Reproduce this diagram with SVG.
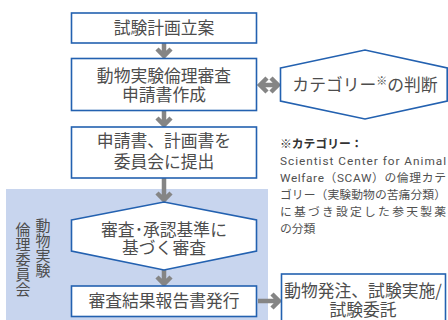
<svg xmlns="http://www.w3.org/2000/svg" width="448" height="320" viewBox="0 0 448 320">
<defs>
<style>
.box{fill:#fff;stroke:#2361b0;stroke-width:1.6}
.t{font-family:"Noto Sans CJK JP","Noto Sans",sans-serif;fill:#4d4d4d;font-size:16.8px;text-anchor:middle}
.n{font-family:Roboto,"Noto Sans CJK JP",sans-serif;fill:#505050;font-size:11.8px}
.v{font-family:"Noto Sans CJK JP","Noto Sans",sans-serif;fill:#4d4d4d;font-size:15px;writing-mode:vertical-rl}
.a{fill:none;stroke:#858585;stroke-width:4.5;stroke-linejoin:miter;stroke-linecap:butt}
</style>
</defs>
<rect id="committee-bg" x="6" y="189" width="262" height="135" fill="#c8d5ee"/>
<g id="committee-label">
<text class="v" x="43" y="218">動物実験</text>
<text class="v" x="23" y="222">倫理委員会</text>
</g>
<g id="connectors">
<path class="a" d="M164,43 V56 M157,49 L164,56 L171,49"/>
<path class="a" d="M164,111 V125 M157,118 L164,125 L171,118"/>
<path class="a" d="M164,178 V200 M157,193 L164,200 L171,193"/>
<path class="a" d="M164,270 V284 M157,277 L164,284 L171,277"/>
<path class="a" d="M261,85 H277 M267,78 L260,85 L267,92 M271,78 L278,85 L271,92"/>
<path class="a" d="M258,301 H279 M272,294 L279,301 L272,308"/>
</g>
<g id="plan">
<rect class="box" x="71.5" y="13" width="185" height="30"/>
<text class="t" x="164" y="34">試験計画立案</text>
</g>
<g id="application">
<rect class="box" x="71.5" y="58.5" width="185" height="52"/>
<text class="t" x="164" y="81.5">動物実験倫理審査</text>
<text class="t" x="164" y="100.5">申請書作成</text>
</g>
<g id="submit">
<rect class="box" x="71.5" y="127" width="185" height="51"/>
<text class="t" x="164" y="147">申請書、計画書を</text>
<text class="t" x="164" y="168">委員会に提出</text>
</g>
<g id="review">
<polygon class="box" points="71.5,220 164,202 256.5,220 256.5,251 164,270 71.5,251"/>
<text class="t" x="164" y="235.5">審査･承認基準に</text>
<text class="t" x="164" y="254">基づく審査</text>
</g>
<g id="report">
<rect class="box" x="71.5" y="286" width="185" height="30.5"/>
<text class="t" x="164" y="307">審査結果報告書発行</text>
</g>
<g id="category">
<polygon class="box" points="280.5,68 365,50 447.2,68 447.2,101 365,119 280.5,101"/>
<text class="t" x="365" y="91">カテゴリー<tspan font-size="11" dy="-6">※</tspan><tspan dy="6">の判断</tspan></text>
</g>
<g id="note">
<text class="n" x="280" y="148" style="font-weight:bold;fill:#333">※カテゴリー：</text>
<text class="n" x="280" y="165" textLength="166" lengthAdjust="spacing">Scientist Center for Animal</text>
<text class="n" x="280" y="182" textLength="166" lengthAdjust="spacing">Welfare（SCAW）の倫理カテ</text>
<text class="n" x="280" y="199" textLength="166" lengthAdjust="spacing">ゴリー（実験動物の苦痛分類）</text>
<text class="n" x="280" y="216" textLength="166" lengthAdjust="spacing">に基づき設定した参天製薬</text>
<text class="n" x="280" y="233">の分類</text>
</g>
<g id="order">
<rect class="box" x="281.5" y="274" width="164" height="52"/>
<text class="t" x="363" y="297">動物発注、試験実施/</text>
<text class="t" x="363" y="316">試験委託</text>
</g>
</svg>
